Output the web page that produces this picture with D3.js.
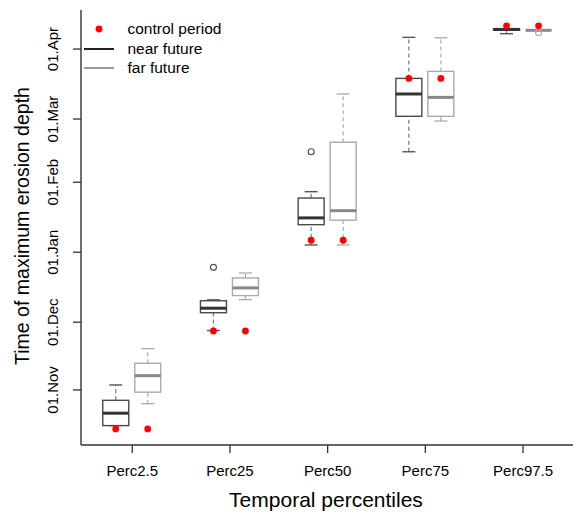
<!DOCTYPE html>
<html>
<head>
<meta charset="utf-8">
<script src="https://cdn.jsdelivr.net/npm/d3@7"></script>
<style>
  body { margin: 0; background: #fff; }
  text { font-family: "Liberation Sans", Arial, sans-serif; fill: #000; }
</style>
</head>
<body>
<svg width="573" height="514"></svg>
<script>
// days counted from 01.Nov
var categories = ['Perc2.5', 'Perc25', 'Perc50', 'Perc75', 'Perc97.5'];
var tickDays = [0, 30, 61, 92, 120, 151];
var tickLabels = ['01.Nov', '01.Dec', '01.Jan', '01.Feb', '01.Mar', '01.Apr'];

// [lower whisker, q1, median, q3, upper whisker]
var nearStats = [
    [-15.8, -15.8, -10.3, -4.6, 2.2],
    [26.3, 34.2, 36.2, 39.5, 39.9],
    [64.2, 73.2, 76.2, 85.0, 87.8],
    [105.5, 121.2, 131.1, 138.0, 156.2],
    [157.8, 159.3, 159.7, 160.0, 160.0]
];
var farStats = [
    [-6.1, -1.0, 6.3, 11.8, 18.3],
    [40.0, 41.8, 45.2, 49.6, 51.8],
    [64.2, 75.2, 79.4, 109.7, 131.1],
    [119.1, 121.2, 129.6, 141.1, 156.0],
    [159.3, 159.3, 159.3, 159.3, 159.3]
];
var nearOutliers = [[], [54.3], [105.5], [], []];
var farOutliers = [[], [], [], [], [158.2]];
var control = [-17.3, 26.1, 66.3, 138.0, 161.3];

var legendLabels = ['control period', 'near future', 'far future'];

var svg = d3.select('svg');

var x = d3.scalePoint()
    .domain(categories)
    .range([82.9, 571.4])
    .padding(0.5);

var y = d3.scaleLinear()
    .domain([-24.4, 168.3])
    .range([445, 10]);

var axisColor = '#333';

// axes (R style: left + bottom only)
var yAxis = svg.append('g')
    .attr('transform', 'translate(81,0)')
    .call(d3.axisLeft(y).tickValues(tickDays).tickFormat(function(d, i) { return tickLabels[i]; }).tickSizeOuter(0).tickSize(8));
yAxis.select('.domain').remove();
yAxis.selectAll('line').attr('stroke', axisColor).attr('stroke-width', 1.3);
yAxis.selectAll('text')
    .attr('transform', function(d) { return 'translate(-23,' + y(d) + ') rotate(-90)'; })
    .attr('x', 0).attr('y', 0).attr('dy', 0)
    .attr('text-anchor', 'middle')
    .style('font-size', '15px');
yAxis.selectAll('.tick').attr('transform', null);
yAxis.selectAll('.tick line').attr('transform', function(d) { return 'translate(0,' + y(d) + ')'; });

svg.append('line')
    .attr('x1', 81).attr('x2', 81).attr('y1', 10).attr('y2', 445)
    .attr('stroke', axisColor).attr('stroke-width', 1.4);

var xAxis = svg.append('g')
    .attr('transform', 'translate(0,445)')
    .call(d3.axisBottom(x).tickSize(8).tickSizeOuter(0));
xAxis.select('.domain').remove();
xAxis.selectAll('line').attr('stroke', axisColor).attr('stroke-width', 1.3);
xAxis.selectAll('text').attr('y', 31).attr('dy', 0).style('font-size', '15px');

svg.append('line')
    .attr('x1', 81).attr('x2', 573).attr('y1', 445).attr('y2', 445)
    .attr('stroke', axisColor).attr('stroke-width', 1.4);

// titles
svg.append('text')
    .attr('x', 326).attr('y', 507)
    .attr('text-anchor', 'middle')
    .style('font-size', '21px')
    .text('Temporal percentiles');

svg.append('text')
    .attr('transform', 'translate(29,226) rotate(-90)')
    .attr('text-anchor', 'middle')
    .style('font-size', '19.5px')
    .text('Time of maximum erosion depth');

// boxplots
var boxW = 26;
var series = [
    { stats: nearStats, outliers: nearOutliers, offset: -16, stroke: '#4a4a4a', median: '#333', dash: '#777' },
    { stats: farStats, outliers: farOutliers, offset: 16, stroke: '#aaa', median: '#888', dash: '#aaa' }
];

series.forEach(function(s) {
    s.stats.forEach(function(st, i) {
        var cx = x(categories[i]) + s.offset;
        var g = svg.append('g');
        // whiskers
        [[st[0], st[1]], [st[3], st[4]]].forEach(function(w) {
            if (w[0] === w[1]) return;
            g.append('line')
                .attr('x1', cx).attr('x2', cx)
                .attr('y1', y(w[0])).attr('y2', y(w[1]))
                .attr('stroke', s.dash).attr('stroke-width', 1.2)
                .attr('stroke-dasharray', '4,3');
        });
        [st[0], st[4]].forEach(function(v) {
            g.append('line')
                .attr('x1', cx - boxW / 4).attr('x2', cx + boxW / 4)
                .attr('y1', y(v)).attr('y2', y(v))
                .attr('stroke', s.stroke).attr('stroke-width', 1.3);
        });
        g.append('rect')
            .attr('x', cx - boxW / 2)
            .attr('y', y(st[3]))
            .attr('width', boxW)
            .attr('height', Math.max(0, y(st[1]) - y(st[3])))
            .attr('fill', 'white')
            .attr('stroke', s.stroke).attr('stroke-width', 1.4);
        g.append('line')
            .attr('x1', cx - boxW / 2).attr('x2', cx + boxW / 2)
            .attr('y1', y(st[2])).attr('y2', y(st[2]))
            .attr('stroke', s.median).attr('stroke-width', 3);
        s.outliers[i].forEach(function(v) {
            g.append('circle')
                .attr('cx', cx).attr('cy', y(v)).attr('r', 3)
                .attr('fill', 'none')
                .attr('stroke', s.stroke).attr('stroke-width', 1.1);
        });
    });
});

// control period dots (one per box)
control.forEach(function(v, i) {
    series.forEach(function(s) {
        svg.append('circle')
            .attr('cx', x(categories[i]) + s.offset)
            .attr('cy', y(v))
            .attr('r', 3.4)
            .attr('fill', '#f00');
    });
});

// legend
var legend = svg.append('g');
legend.append('circle').attr('cx', 99).attr('cy', 29).attr('r', 3.4).attr('fill', '#f00');
legend.append('line').attr('x1', 84).attr('x2', 114).attr('y1', 49).attr('y2', 49)
    .attr('stroke', '#222').attr('stroke-width', 2);
legend.append('line').attr('x1', 84).attr('x2', 114).attr('y1', 68).attr('y2', 68)
    .attr('stroke', '#999').attr('stroke-width', 2);
legendLabels.forEach(function(t, i) {
    legend.append('text')
        .attr('x', 127.5)
        .attr('y', 29 + i * 19.5)
        .attr('dy', '0.35em')
        .style('font-size', '15.5px')
        .text(t);
});
</script>
</body>
</html>
